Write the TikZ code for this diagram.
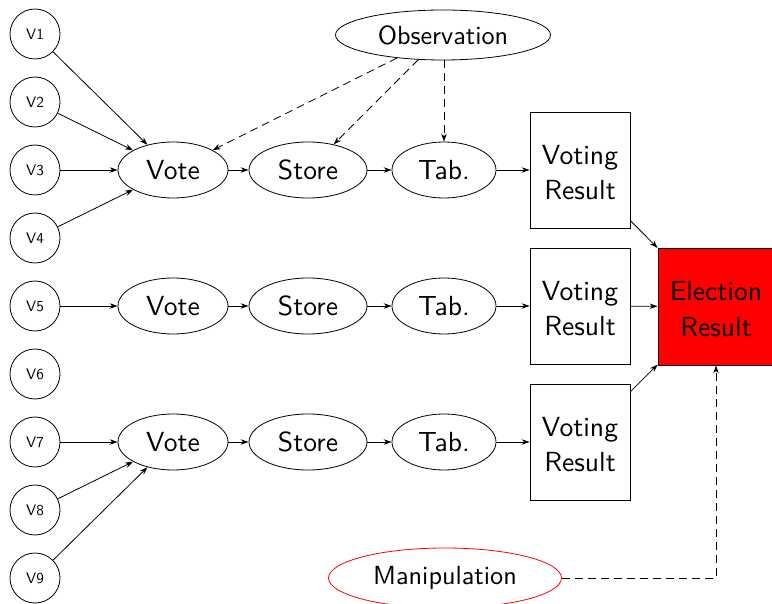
\documentclass[tikz,border=0pt]{standalone}
\usetikzlibrary{arrows.meta,shapes.geometric}
\newcommand\sctxt[2]{\raisebox{-2.5pt}[\dimexpr\height+2.5pt\relax][\dimexpr\depth-2.5pt\relax]{\scalebox{#1}{\begin{tabular}{@{}c@{}}#2\end{tabular}}}}
\renewcommand\arraystretch{1.07}
\begin{document}
\begin{tikzpicture}[x=1pt,y=-1pt,line width=0.8pt,
 voter/.style={circle,draw,minimum size=50pt,inner sep=0pt,font=\sffamily},
 proc/.style={ellipse,draw,minimum height=56pt,inner sep=0pt,font=\sffamily},
 res/.style={rectangle,draw,minimum width=100pt,minimum height=116pt,inner sep=0pt,font=\sffamily},
 big/.style={ellipse,draw,inner sep=0pt,font=\sffamily},
 arr/.style={-{Stealth[length=8pt,width=5.5pt]}},
 obsarr/.style={arr,dash pattern=on 8pt off 5pt}]
\useasboundingbox (0,0) rectangle (772,604);
% voters
\foreach \i in {1,...,9}{
  \node[voter] (v\i) at (35,{34+68*(\i-1)}) {\scalebox{1.52}{V\i}};
}
% rows
\foreach \r/\y in {1/170,2/306,3/442}{
  \node[proc,minimum width=110pt] (vote\r) at (173,\y) {\scalebox{2.76}{Vote}};
  \node[proc,minimum width=118pt] (store\r) at (308,\y) {\scalebox{2.76}{Store}};
  \node[proc,minimum width=104pt] (tab\r) at (444,\y) {\scalebox{2.76}{Tab.}};
  \node[res] (vr\r) at (580,\y) {\sctxt{2.76}{Voting\\Result}};
  \draw[arr] (vote\r) -- (store\r);
  \draw[arr] (store\r) -- (tab\r);
  \draw[arr] (tab\r) -- (vr\r);
}
\node[res,fill=red,minimum width=116pt,minimum height=117pt] (er) at (716,306.5) {\sctxt{2.76}{Election\\Result}};
\node[big,minimum width=215pt,minimum height=50pt] (obs) at (443,35) {\scalebox{2.62}{Observation}};
\node[big,draw=red,minimum width=233pt,minimum height=60pt] (man) at (445,578) {\scalebox{2.62}{Manipulation}};
% voter edges
\foreach \i in {1,2,3,4}{\draw[arr] (v\i) -- (vote1);}
\draw[arr] (v5) -- (vote2);
\foreach \i in {7,8,9}{\draw[arr] (v\i) -- (vote3);}
% results
\foreach \r in {1,2,3}{\draw[arr] (vr\r) -- (er);}
% observation
\draw[obsarr] (obs) -- (vote1);
\draw[obsarr] (obs) -- (store1);
\draw[obsarr] (obs.south -| tab1) -- (tab1);
% manipulation
\draw[obsarr] (man) -| (er);
\end{tikzpicture}
\end{document}
